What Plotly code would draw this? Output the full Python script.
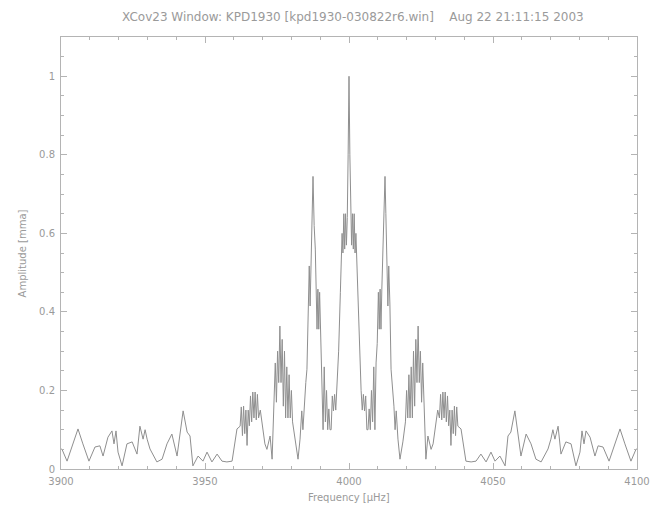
import plotly.graph_objects as go

# ---- data ----
freq_left = [3900.0, 3900.3, 3902.1, 3904.2, 3905.9, 3907.6, 3909.7, 3911.8, 3913.5, 3914.6,
             3916.3, 3917.7, 3918.4, 3919.1, 3919.8, 3921.2, 3922.9, 3924.7, 3926.4, 3927.4,
             3928.5, 3929.2, 3929.9, 3930.9, 3933.3, 3935.1, 3936.8, 3938.5, 3940.3, 3942.4,
             3943.8, 3944.8, 3945.8, 3947.6, 3949.3, 3950.7, 3952.4, 3954.2, 3955.9, 3957.6,
             3959.4, 3961.1, 3962.2, 3962.6, 3963.0, 3963.4, 3963.8, 3964.2, 3964.6, 3965.0,
             3965.4, 3965.8, 3966.2, 3966.6, 3967.0, 3967.4, 3967.8, 3968.2, 3968.6, 3969.2,
             3969.8, 3970.8, 3971.5, 3972.6, 3973.3, 3974.0, 3974.4, 3974.8, 3975.2, 3975.6,
             3976.0, 3976.4, 3976.8, 3977.2, 3977.6, 3978.0, 3978.4, 3978.8, 3979.2, 3979.6,
             3980.0, 3980.4, 3981.3, 3982.3, 3983.0, 3983.6, 3984.0, 3984.4, 3985.0, 3985.4,
             3985.8, 3986.2, 3986.5, 3986.8, 3987.2, 3987.5, 3987.9, 3988.3, 3988.6, 3988.9,
             3989.2, 3989.5, 3989.8, 3990.2, 3990.6, 3991.0, 3991.4, 3991.8, 3992.2, 3992.6,
             3993.0, 3993.4, 3993.8, 3994.2, 3994.6, 3995.0, 3995.4, 3995.8, 3996.4, 3997.0,
             3997.6, 3997.9, 3998.2, 3998.5, 3998.8, 3999.1, 3999.4, 3999.7, 4000.0]
amp_left = [0.050, 0.051, 0.020, 0.064, 0.102, 0.064, 0.020, 0.056, 0.059, 0.033,
            0.081, 0.097, 0.064, 0.097, 0.043, 0.008, 0.064, 0.069, 0.038, 0.109,
            0.076, 0.100, 0.076, 0.051, 0.018, 0.025, 0.064, 0.089, 0.033, 0.148,
            0.094, 0.084, 0.008, 0.033, 0.020, 0.043, 0.018, 0.038, 0.020, 0.018,
            0.020, 0.102, 0.109, 0.158, 0.085, 0.160, 0.090, 0.150, 0.060, 0.150,
            0.110, 0.186, 0.120, 0.196, 0.130, 0.196, 0.125, 0.190, 0.130, 0.150,
            0.120, 0.064, 0.050, 0.084, 0.025, 0.160, 0.270, 0.170, 0.300, 0.220,
            0.364, 0.220, 0.330, 0.160, 0.300, 0.130, 0.260, 0.130, 0.240, 0.130,
            0.200, 0.120, 0.069, 0.025, 0.076, 0.148, 0.100, 0.160, 0.220, 0.254,
            0.420, 0.517, 0.415, 0.520, 0.650, 0.745, 0.620, 0.560, 0.458, 0.356,
            0.458, 0.356, 0.450, 0.320, 0.270, 0.100, 0.260, 0.120, 0.200, 0.100,
            0.153, 0.100, 0.100, 0.186, 0.148, 0.190, 0.150, 0.200, 0.300, 0.450,
            0.600, 0.550, 0.650, 0.560, 0.650, 0.570, 0.640, 0.800, 1.000]

freq_right = [4000.3, 4000.6, 4000.9, 4001.2, 4001.5, 4001.8, 4002.1, 4002.4, 4003.0, 4003.6,
              4004.2, 4004.6, 4005.0, 4005.4, 4005.8, 4006.2, 4006.6, 4007.0, 4007.4, 4007.8,
              4008.2, 4008.6, 4009.0, 4009.4, 4009.8, 4010.2, 4010.5, 4010.8, 4011.1, 4011.4,
              4011.7, 4012.1, 4012.5, 4012.8, 4013.2, 4013.5, 4013.8, 4014.2, 4014.6, 4015.0,
              4015.6, 4016.0, 4016.4, 4017.0, 4017.7, 4018.7, 4019.6, 4020.0, 4020.4, 4020.8,
              4021.2, 4021.6, 4022.0, 4022.4, 4022.8, 4023.2, 4023.6, 4024.0, 4024.4, 4024.8,
              4025.2, 4025.6, 4026.0, 4026.7, 4027.4, 4028.5, 4029.2, 4030.2, 4030.8, 4031.4,
              4031.8, 4032.2, 4032.6, 4033.0, 4033.4, 4033.8, 4034.2, 4034.6, 4035.0, 4035.4,
              4035.8, 4036.2, 4036.6, 4037.0, 4037.4, 4037.8, 4038.9, 4040.6, 4042.4, 4044.1,
              4045.8, 4047.6, 4049.3, 4050.7, 4052.4, 4054.2, 4055.2, 4056.2, 4057.6, 4059.7,
              4061.5, 4063.2, 4064.9, 4066.7, 4069.1, 4070.1, 4070.8, 4071.5, 4072.6, 4073.6,
              4075.3, 4077.1, 4078.8, 4080.2, 4080.9, 4081.6, 4082.3, 4083.7, 4085.4, 4086.5,
              4088.2, 4090.3, 4092.4, 4094.1, 4095.8, 4097.9, 4099.7, 4100.0]
amp_right = [0.800, 0.640, 0.570, 0.650, 0.560, 0.650, 0.550, 0.600, 0.450, 0.300,
             0.200, 0.150, 0.190, 0.148, 0.186, 0.100, 0.100, 0.153, 0.100, 0.200,
             0.120, 0.260, 0.100, 0.270, 0.320, 0.450, 0.356, 0.458, 0.356, 0.458,
             0.560, 0.620, 0.745, 0.650, 0.520, 0.415, 0.517, 0.420, 0.254, 0.220,
             0.160, 0.100, 0.148, 0.076, 0.025, 0.069, 0.120, 0.200, 0.130, 0.240,
             0.130, 0.260, 0.130, 0.300, 0.160, 0.330, 0.220, 0.364, 0.220, 0.300,
             0.170, 0.270, 0.160, 0.025, 0.084, 0.050, 0.064, 0.120, 0.150, 0.130,
             0.190, 0.125, 0.196, 0.130, 0.196, 0.120, 0.186, 0.110, 0.150, 0.060,
             0.150, 0.090, 0.160, 0.085, 0.158, 0.109, 0.102, 0.020, 0.018, 0.020,
             0.038, 0.018, 0.043, 0.020, 0.033, 0.008, 0.084, 0.094, 0.148, 0.033,
             0.089, 0.064, 0.025, 0.018, 0.051, 0.076, 0.100, 0.076, 0.109, 0.038,
             0.069, 0.064, 0.008, 0.043, 0.097, 0.064, 0.097, 0.081, 0.033, 0.059,
             0.056, 0.020, 0.064, 0.102, 0.064, 0.020, 0.051, 0.050]

x_ticks = [3900, 3950, 4000, 4050, 4100]
x_tick_labels = ["3900", "3950", "4000", "4050", "4100"]
y_ticks = [0, 0.2, 0.4, 0.6, 0.8, 1.0]
y_tick_labels = ["0", "0.2", "0.4", "0.6", "0.8", "1"]

title_text = "XCov23 Window: KPD1930 [kpd1930-030822r6.win]    Aug 22 21:11:15 2003"
x_title = "Frequency [µHz]"
y_title = "Amplitude [mma]"

freq = freq_left + freq_right
amp = amp_left + amp_right

ink = "#8f8f8f"
text_ink = "#9a9a9a"
axis_ink = "#b4b4b4"
font_family = "DejaVu Sans"

fig = go.Figure()
fig.add_trace(go.Scatter(x=freq, y=amp, mode="lines",
                         line=dict(color=ink, width=1), hoverinfo="skip",
                         showlegend=False))

axis_common = dict(
    showgrid=False, zeroline=False, showline=True, linecolor=axis_ink, linewidth=1,
    mirror="allticks", ticks="inside", tickcolor=axis_ink, ticklen=6, tickwidth=1,
    tickfont=dict(family=font_family, size=10, color=text_ink), automargin=False,
)

fig.update_xaxes(range=[3900, 4100], tickvals=x_ticks, ticktext=x_tick_labels,
                 ticklabelstandoff=3,
                 minor=dict(ticks="inside", ticklen=3, dtick=10, tickcolor=axis_ink),
                 **axis_common)
fig.update_yaxes(range=[0, 1.1], tickvals=y_ticks, ticktext=y_tick_labels,
                 ticklabelstandoff=3,
                 minor=dict(ticks="inside", ticklen=3, dtick=0.05, tickcolor=axis_ink),
                 **axis_common)

fig.add_annotation(text=x_title, xref="paper", yref="paper", x=0.5, y=-0.066,
                   xanchor="center", yanchor="middle", showarrow=False,
                   font=dict(family=font_family, size=10, color=text_ink))
fig.add_annotation(text=y_title, xref="paper", yref="paper", x=-0.067, y=0.5,
                   xanchor="center", yanchor="middle", showarrow=False, textangle=-90,
                   font=dict(family=font_family, size=10, color=text_ink))

fig.update_layout(
    width=656, height=507,
    margin=dict(l=61, r=19, t=37, b=38),
    paper_bgcolor="white", plot_bgcolor="white",
    title=dict(text=title_text, x=0.538, xanchor="center", y=0.966, yanchor="middle",
               font=dict(family=font_family, size=12, color=text_ink)),
)

fig.write_html("out.html")
